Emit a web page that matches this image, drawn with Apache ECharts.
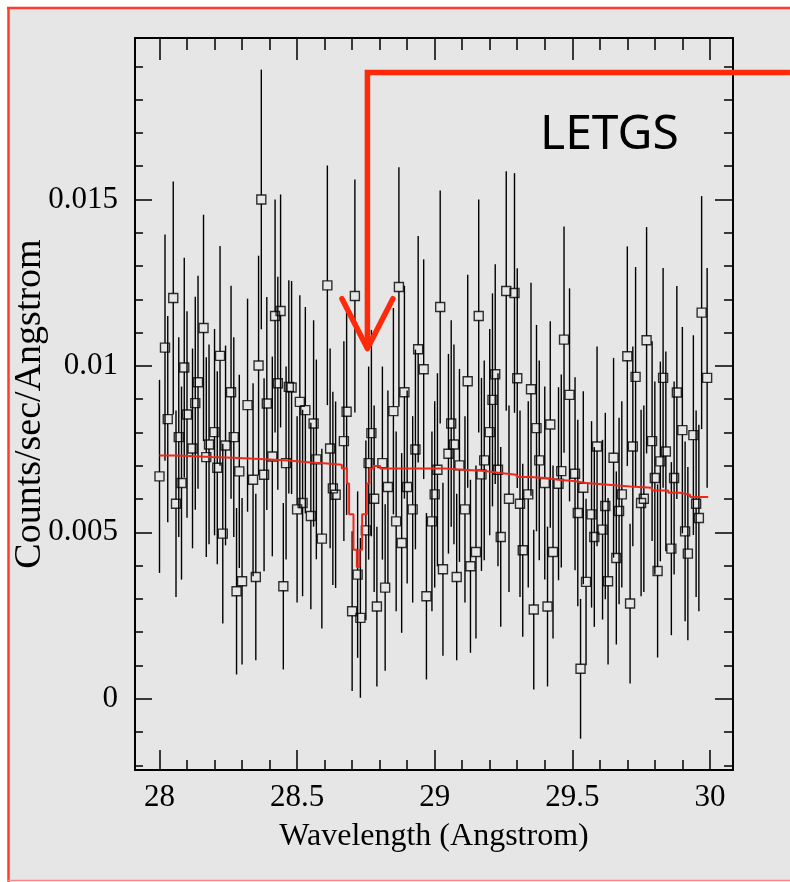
<!DOCTYPE html>
<html>
<head>
<meta charset="utf-8">
<script src="https://cdn.jsdelivr.net/npm/echarts@6/dist/echarts.min.js"></script>
<style>html,body{margin:0;padding:0;background:#fff;}#main{width:790px;height:882px;}</style>
</head>
<body>
<div id="main"></div>
<script>
// ---- data ----
const wavelength = [28.00,28.02,28.03,28.05,28.06,28.07,28.08,28.09,28.10,28.12,
28.13,28.14,28.16,28.17,28.18,28.20,28.21,28.22,28.23,28.24,
28.26,28.27,28.28,28.29,28.30,28.32,28.34,28.35,28.36,28.37,
28.38,28.39,28.41,28.42,28.43,28.44,28.45,28.46,28.47,28.48,
28.50,28.51,28.52,28.53,28.55,28.56,28.57,28.59,28.61,28.62,
28.63,28.64,28.67,28.68,28.70,28.71,28.72,28.73,28.75,28.76,
28.77,28.78,28.79,28.81,28.82,28.83,28.85,28.86,28.87,28.88,
28.89,28.90,28.92,28.93,28.94,28.96,28.97,28.99,29.00,29.01,
29.02,29.03,29.05,29.06,29.07,29.08,29.09,29.11,29.12,29.13,
29.15,29.16,29.17,29.18,29.20,29.21,29.22,29.23,29.24,29.26,
29.27,29.29,29.30,29.31,29.32,29.34,29.35,29.36,29.37,29.38,
29.40,29.41,29.42,29.43,29.45,29.46,29.47,29.49,29.51,29.52,
29.53,29.54,29.55,29.57,29.58,29.59,29.61,29.62,29.63,29.65,
29.66,29.67,29.68,29.70,29.71,29.72,29.73,29.75,29.76,29.77,
29.79,29.80,29.81,29.82,29.83,29.84,29.86,29.87,29.88,29.90,
29.91,29.92,29.94,29.95,29.96,29.97,29.99];

const counts = [0.00668,0.01055,0.00840,0.01204,0.00586,0.00786,0.00648,0.00995,0.00854,0.00752,
0.00888,0.00951,0.01114,0.00726,0.00764,0.00801,0.00694,0.01030,0.00496,0.00761,
0.00921,0.00786,0.00323,0.00683,0.00353,0.00882,0.00658,0.00366,0.01001,0.01500,
0.00673,0.00887,0.00728,0.01150,0.00948,0.01165,0.00338,0.00708,0.00937,0.00935,
0.00569,0.00892,0.00588,0.00867,0.00549,0.00827,0.00719,0.00481,0.01242,0.00752,
0.00632,0.00613,0.00774,0.00862,0.00263,0.01210,0.00373,0.00243,0.00506,0.00708,
0.00798,0.00601,0.00277,0.00708,0.00334,0.00636,0.00864,0.00533,0.01237,0.00468,
0.00921,0.00636,0.00569,0.00749,0.01050,0.00990,0.00308,0.00533,0.00614,0.00688,
0.01177,0.00389,0.00736,0.00827,0.00764,0.00366,0.00701,0.00569,0.00954,0.00398,
0.00441,0.01150,0.00674,0.00716,0.00801,0.00898,0.00975,0.00688,0.00486,0.01225,
0.00601,0.01219,0.00963,0.00586,0.00446,0.00614,0.00930,0.00268,0.00813,0.00716,
0.00648,0.00277,0.00824,0.00441,0.00646,0.00684,0.01079,0.00913,0.00676,0.00558,
0.00090,0.00634,0.00351,0.00554,0.00486,0.00758,0.00508,0.00579,0.00353,0.00724,
0.00423,0.00564,0.00614,0.01029,0.00286,0.00758,0.00967,0.00588,0.00601,0.01077,
0.00774,0.00663,0.00384,0.00713,0.00964,0.00743,0.00451,0.00663,0.00920,0.00807,
0.00503,0.00436,0.00792,0.00586,0.00543,0.01160,0.00964];

const errors = [0.0029,0.0034,0.0031,0.0035,0.0028,0.0030,0.0029,0.0033,0.0031,0.0030,
0.0032,0.0032,0.0034,0.0030,0.0030,0.0031,0.0029,0.0033,0.0027,0.0030,
0.0032,0.0030,0.0025,0.0029,0.0025,0.0032,0.0029,0.0025,0.0033,0.0039,
0.0029,0.0032,0.0030,0.0035,0.0032,0.0035,0.0025,0.0029,0.0032,0.0032,
0.0028,0.0032,0.0028,0.0031,0.0028,0.0031,0.0030,0.0027,0.0036,0.0030,
0.0029,0.0028,0.0030,0.0031,0.0024,0.0035,0.0025,0.0024,0.0027,0.0029,
0.0031,0.0028,0.0024,0.0029,0.0025,0.0029,0.0031,0.0027,0.0036,0.0027,
0.0032,0.0029,0.0028,0.0030,0.0034,0.0033,0.0025,0.0027,0.0028,0.0029,
0.0035,0.0026,0.0030,0.0031,0.0030,0.0025,0.0029,0.0028,0.0032,0.0026,
0.0026,0.0035,0.0029,0.0030,0.0031,0.0032,0.0033,0.0029,0.0027,0.0036,
0.0028,0.0036,0.0033,0.0028,0.0026,0.0028,0.0032,0.0024,0.0031,0.0030,
0.0029,0.0024,0.0031,0.0026,0.0029,0.0029,0.0034,0.0032,0.0029,0.0028,
0.0021,0.0029,0.0025,0.0028,0.0027,0.0030,0.0027,0.0028,0.0025,0.0030,
0.0026,0.0028,0.0028,0.0033,0.0024,0.0030,0.0033,0.0028,0.0028,0.0034,
0.0030,0.0029,0.0026,0.0030,0.0033,0.0030,0.0026,0.0029,0.0032,0.0031,
0.0027,0.0026,0.0030,0.0028,0.0028,0.0035,0.0033];

// model (step function, value holds from each x to the next)
const modelX = [28.000,28.060,28.190,28.290,28.400,28.470,28.550,28.610,28.6625,28.681,28.689,28.705,28.717,28.7265,28.7363,28.7534,28.7628,28.778,28.802,29.038,29.104,29.183,29.238,29.298,29.347,29.401,29.449,29.504,29.550,29.631,29.710,29.789,29.849,29.891,29.928,29.994];
const modelY = [0.00731,0.00726,0.00723,0.00719,0.00716,0.00710,0.00707,0.00703,0.00692,0.00647,0.00554,0.00448,0.00396,0.00448,0.00554,0.00647,0.00692,0.00699,0.00692,0.00688,0.00684,0.00678,0.00673,0.00666,0.00663,0.00658,0.00654,0.00648,0.00643,0.00638,0.00634,0.00626,0.00619,0.00613,0.00606,0.00606];

const xMajorTicks = [28, 28.5, 29, 29.5, 30];
const xMinorTicks = [28.1,28.2,28.3,28.4,28.6,28.7,28.8,28.9,29.1,29.2,29.3,29.4,29.6,29.7,29.8,29.9];
const yMajorTicks = [0, 0.005, 0.01, 0.015];
const yMinorTicks = [-0.002,-0.001,0.001,0.002,0.003,0.004,0.006,0.007,0.008,0.009,0.011,0.012,0.013,0.014,0.016,0.017,0.018,0.019];

const xTitle = 'Wavelength (Angstrom)';
const yTitle = 'Counts/sec/Angstrom';
const instrument = 'LETGS';
// annotation arrow (data coordinates): tip near the absorption line
const arrowTip = [28.7555, 0.01052];
const arrowTopY = 0.01881;
const arrowEndX = 30.291;
const arrowWing = [0.0925, 0.01202];

// ---- chart ----
const X_MIN = 27.911, X_MAX = 30.084, Y_MIN = -0.00214, Y_MAX = 0.01985;
const serif = 'Liberation Serif';
const black = '#000';
function gridDef() {
  return {left: 135, top: 38, right: 57, bottom: 112, containLabel: false, outerBoundsMode: 'none'};
}

function xAxisDef(gridIndex, position, ticks, len, withLabels) {
  return {
    type: 'value', gridIndex, position, min: X_MIN, max: X_MAX,
    axisLine: {show: true, onZero: false, lineStyle: {color: black, width: 1.8}},
    axisTick: {show: true, inside: true, length: len, customValues: ticks, lineStyle: {color: black, width: 1.5}},
    axisLabel: {show: withLabels, customValues: ticks, margin: 12, color: black, fontFamily: serif, fontSize: 31},
    splitLine: {show: false}
  };
}
function yAxisDef(gridIndex, position, ticks, len, withLabels) {
  return {
    type: 'value', gridIndex, position, min: Y_MIN, max: Y_MAX,
    axisLine: {show: true, onZero: false, lineStyle: {color: black, width: 1.8}},
    axisTick: {show: true, inside: true, length: len, customValues: ticks, lineStyle: {color: black, width: 1.5}},
    axisLabel: {show: withLabels, customValues: ticks, margin: 17, color: black, fontFamily: serif, fontSize: 31},
    splitLine: {show: false}
  };
}

// grid 0: bottom/left major (labels, names) ; grid 1: top/right major ;
// grid 2: bottom/left minor ; grid 3: top/right minor
const xAxes = [
  Object.assign(xAxisDef(0, 'bottom', xMajorTicks, 20, true), {
    name: xTitle, nameLocation: 'middle', nameGap: 51, nameMoveOverlap: false,
    nameTextStyle: {color: black, fontFamily: serif, fontSize: 32}
  }),
  xAxisDef(1, 'top', xMajorTicks, 22, false),
  xAxisDef(2, 'bottom', xMinorTicks, 10, false),
  xAxisDef(3, 'top', xMinorTicks, 12, false)
];
const yAxes = [
  Object.assign(yAxisDef(0, 'left', yMajorTicks, 17, true), {
    name: yTitle, nameLocation: 'middle', nameGap: 86, nameRotate: 90, nameMoveOverlap: false,
    nameTextStyle: {color: black, fontFamily: serif, fontSize: 38}
  }),
  yAxisDef(1, 'right', yMajorTicks, 18, false),
  yAxisDef(2, 'left', yMinorTicks, 8, false),
  yAxisDef(3, 'right', yMinorTicks, 9, false)
];

const points = wavelength.map((w, k) => [w, counts[k], errors[k]]);
const model = modelX.map((x, k) => [x, modelY[k]]);
const HALF = 4.5;

const option = {
  animation: false,
  backgroundColor: '#ffffff',
  grid: [gridDef(), gridDef(), gridDef(), gridDef()],
  xAxis: xAxes,
  yAxis: yAxes,
  series: [
    {
      type: 'custom', xAxisIndex: 0, yAxisIndex: 0, z: 3,
      data: points, encode: {x: 0, y: 1},
      renderItem: function (params, api) {
        const x = api.value(0), v = api.value(1), e = api.value(2);
        const c = api.coord([x, v]);
        const hi = api.coord([x, v + e]);
        const lo = api.coord([x, v - e]);
        const st = {stroke: '#000', lineWidth: 1.4};
        return {type: 'group', children: [
          {type: 'line', shape: {x1: c[0], y1: hi[1], x2: c[0], y2: c[1] - HALF}, style: st},
          {type: 'line', shape: {x1: c[0], y1: c[1] + HALF, x2: c[0], y2: lo[1]}, style: st}
        ]};
      }
    },
    {
      type: 'scatter', xAxisIndex: 0, yAxisIndex: 0, z: 4,
      data: points.map(p => [p[0], p[1]]),
      symbol: 'rect', symbolSize: 9,
      itemStyle: {color: 'rgba(0,0,0,0)', borderColor: '#000', borderWidth: 1.4}
    },
    {
      type: 'line', xAxisIndex: 0, yAxisIndex: 0, z: 5,
      data: model, step: 'end', showSymbol: false, symbol: 'none',
      lineStyle: {color: '#ec2a1c', width: 2}
    }
  ]
};

const chart = echarts.init(document.getElementById('main'));
chart.setOption(option);

const toPx = (x, y) => chart.convertToPixel({xAxisIndex: 0, yAxisIndex: 0}, [x, y]);
const pTip = toPx(arrowTip[0], arrowTip[1]);
const pCorner = toPx(arrowTip[0], arrowTopY);
const pEnd = toPx(arrowEndX, arrowTopY);
const pWl = toPx(arrowTip[0] - arrowWing[0], arrowWing[1]);
const pWr = toPx(arrowTip[0] + arrowWing[0], arrowWing[1]);
const arrowRed = '#ff2a0a';
const borderRed = '#ff3b30';

chart.setOption({
  graphic: [
    {type: 'rect', z: -10, silent: true, shape: {x: 8, y: 7, width: 790, height: 874}, style: {fill: '#e6e6e6'}},
    {type: 'line', z: 50, silent: true, shape: {x1: 8.5, y1: 7, x2: 8.5, y2: 882}, style: {stroke: borderRed, lineWidth: 2.5}},
    {type: 'line', z: 50, silent: true, shape: {x1: 7, y1: 8, x2: 790, y2: 8}, style: {stroke: borderRed, lineWidth: 2.5}},
    {type: 'line', z: 50, silent: true, shape: {x1: 7, y1: 880.5, x2: 790, y2: 880.5}, style: {stroke: '#ff8a80', lineWidth: 1.5}},
    {type: 'polyline', z: 60, silent: true, shape: {points: [pEnd, pCorner, pTip]}, style: {stroke: arrowRed, lineWidth: 5.5, fill: null, lineJoin: 'miter'}},
    {type: 'polyline', z: 60, silent: true, shape: {points: [pWl, pTip, pWr]}, style: {stroke: arrowRed, lineWidth: 5.5, fill: null, lineCap: 'round', lineJoin: 'round'}},
    {type: 'text', z: 60, silent: true, style: {text: instrument, x: 540, y: 135, fill: '#000', font: '48px "Noto Sans"', textAlign: 'left', textVerticalAlign: 'middle'}}
  ]
});
</script>
</body>
</html>
